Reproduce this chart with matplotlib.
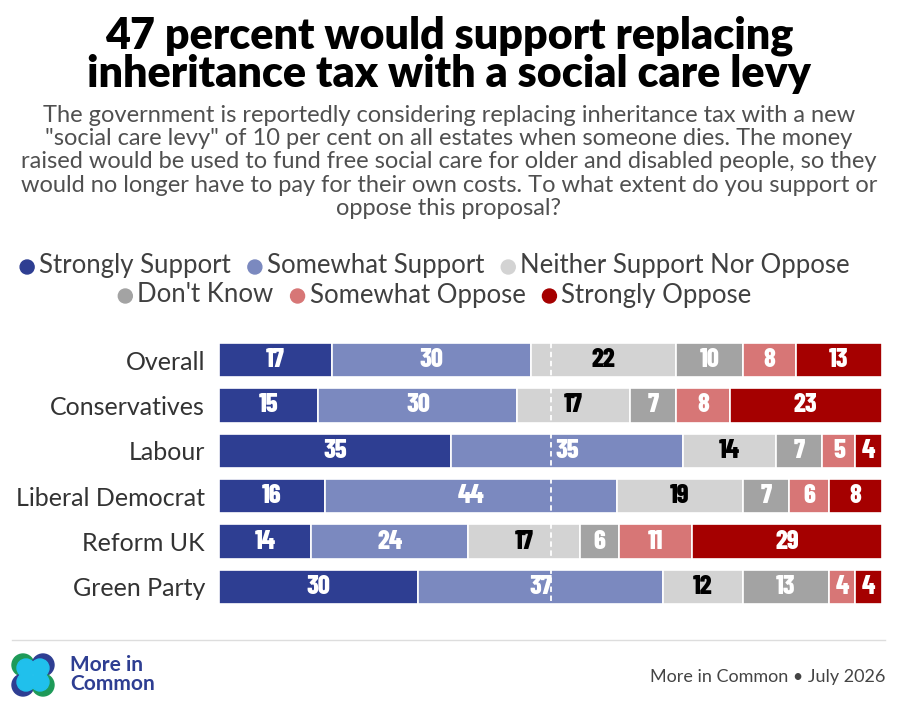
import matplotlib
matplotlib.use('Agg')
import matplotlib.pyplot as plt
import matplotlib.patches as mpatches
import numpy as np

W, H = 898, 714

# Data
groups = ['Overall', 'Conservatives', 'Labour', 'Liberal Democrat', 'Reform UK', 'Green Party']
responses = ['Strongly Support', 'Somewhat Support', 'Neither Support Nor Oppose',
             "Don't Know", 'Somewhat Oppose', 'Strongly Oppose']
strongly_support = [17, 15, 35, 16, 14, 30]
somewhat_support = [30, 30, 35, 44, 24, 37]
neither = [22, 17, 14, 19, 17, 12]
dont_know = [10, 7, 7, 7, 6, 13]
somewhat_oppose = [8, 8, 5, 6, 11, 4]
strongly_oppose = [13, 23, 4, 8, 29, 4]

colors = ['#2E3E92', '#7B89BF', '#D3D3D3', '#A3A3A3', '#D77676', '#A50000']
label_colors = ['white', 'white', 'black', 'white', 'white', 'white']

series = np.array([strongly_support, somewhat_support, neither,
                   dont_know, somewhat_oppose, strongly_oppose], dtype=float)
shares = series / series.sum(axis=0) * 100

fig = plt.figure(figsize=(W / 100, H / 100), dpi=100)
TXT = ['Lato', 'DejaVu Sans']
NUM = ['Barlow Condensed', 'DejaVu Sans']

# overlay axes in pixel coordinates for all free text
over = fig.add_axes([0, 0, 1, 1])
over.set_xlim(0, W)
over.set_ylim(H, 0)
over.axis('off')

# Title and subtitle
over.text(449, 36, '47 percent would support replacing', ha='center', va='center',
          fontsize=31, fontweight='heavy', family=TXT, color='black')
over.text(449, 74, 'inheritance tax with a social care levy', ha='center', va='center',
          fontsize=31, fontweight='heavy', family=TXT, color='black')
subtitle = ['The government is reportedly considering replacing inheritance tax with a new',
            '"social care levy" of 10 per cent on all estates when someone dies. The money',
            'raised would be used to fund free social care for older and disabled people, so they',
            'would no longer have to pay for their own costs. To what extent do you support or',
            'oppose this proposal?']
for i, line in enumerate(subtitle):
    over.text(449, 115 + i * 23.4, line, ha='center', va='center',
              fontsize=17, family=TXT, color='#505050')

# Legend (two centred rows)
legend_rows = [(266, [0, 1, 2]), (295, [3, 4, 5])]
renderer = fig.canvas.get_renderer()
for y, idx in legend_rows:
    items = []
    total = 0
    for k in idx:
        t = over.text(0, y, responses[k], fontsize=18.5, family=TXT, color='#404040',
                      va='center', ha='left')
        w = t.get_window_extent(renderer).width
        t.remove()
        items.append((k, w))
        total += 19 + w
    total += 17 * (len(idx) - 1)
    x = 435 - total / 2
    for k, w in items:
        over.add_patch(mpatches.Ellipse((x + 7, y + 1), 14, 14, color=colors[k]))
        over.text(x + 19, y, responses[k], fontsize=18.5, family=TXT, color='#404040',
                  va='center', ha='left')
        x += 19 + w + 17

# Bars
ax = fig.add_axes([219 / W, 1 - 609.7 / H, (882 - 219) / W, (609.7 - 337.3) / H])
ypos = np.arange(len(groups))
left = np.zeros(len(groups))
for k in range(len(responses)):
    ax.barh(ypos, shares[k], left=left, height=0.76, color=colors[k],
            edgecolor='white', linewidth=1.2)
    for j in range(len(groups)):
        ax.text(left[j] + shares[k][j] / 2, ypos[j], f'{int(series[k][j])}',
                ha='center', va='center', fontsize=19, fontweight=800,
                family=NUM, color=label_colors[k])
    left += shares[k]
ax.axvline(50, color='white', linestyle=(0, (3, 2)), linewidth=1.3)
ax.set_xlim(0, 100)
ax.set_ylim(len(groups) - 0.5, -0.5)
ax.set_yticks(ypos)
ax.set_yticklabels(groups, fontsize=18, family=TXT, color='#333333')
ax.tick_params(axis='y', length=0, pad=10)
ax.set_xticks([])
for s in ax.spines.values():
    s.set_visible(False)

# Footer
over.plot([12, 885], [640, 640], color='#DDDDDD', linewidth=1)
for (cx, cy), c in zip([(23, 665), (43, 665), (23, 685), (43, 685)],
                       ['#1E9A58', '#2E3E92', '#2E3E92', '#1E9A58']):
    over.add_patch(mpatches.Circle((cx, cy), 11, color=c))
for cx, cy in [(26, 668), (40, 668), (26, 682), (40, 682)]:
    over.add_patch(mpatches.Circle((cx, cy), 9, color='#20C0EC'))
over.text(70, 665, 'More in', fontsize=15, fontweight='bold', family=TXT,
          color='#2E3E92', va='center')
over.text(70, 684, 'Common', fontsize=15, fontweight='bold', family=TXT,
          color='#2E3E92', va='center')
over.text(885, 677, 'More in Common \u2022 July 2026', fontsize=13, family=TXT,
          color='#444444', va='center', ha='right')

fig.savefig('out.png', dpi=100)
